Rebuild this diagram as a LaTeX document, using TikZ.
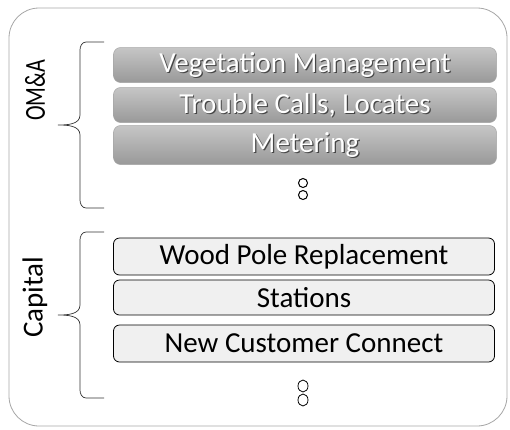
\documentclass[tikz,border=0pt]{standalone}
\usepackage{fontspec}
\usepackage{graphicx}
\setmainfont{Carlito}
\usetikzlibrary{shadings}
\begin{document}
\begin{tikzpicture}[x=1pt,y=-1pt,
  omabox/.style={rounded corners=7pt, top color=gray!45, bottom color=gray!80, draw=gray!70, line width=0.5pt, minimum width=383pt, inner sep=0pt},
  omatext/.style={font=\fontsize{29}{29}\selectfont, text=white},
  omashadow/.style={font=\fontsize{29}{29}\selectfont, text=gray!55!black},
  capbox/.style={rounded corners=6pt, fill=gray!12, draw=black, line width=0.8pt, minimum width=381pt, inner sep=0pt, font=\fontsize{29}{29}\selectfont, text=black},
  grouplabel/.style={rotate=90, font=\fontsize{29}{29}\selectfont},
  bracepath/.style={draw=black!80, line width=0.7pt},
  dot/.style={draw=black, line width=1pt}
]
\useasboundingbox (0,0) rectangle (510,429);
% outer frame
\draw[gray!70, line width=0.8pt, rounded corners=30pt] (9,8) rectangle (507,426);

% OM&A group
\node[grouplabel] (oma) at (35,90) {\scalebox{0.76}[1]{OM\&A}};
\draw[bracepath] (104,42) -- (86,42) to[out=180,in=90] (80,50) -- (80,115) to[out=-90,in=0] (58,125) to[out=0,in=90] (80,135) -- (80,200) to[out=-90,in=180] (86,208) -- (104,208);

\foreach \n/\y/\h/\t in {v/65/35/Vegetation Management, t/105/35/{Trouble Calls, Locates}, m/145/39/Metering}{
  \node[omabox, minimum height=\h pt] (\n) at (305,\y) {};
  \node[omashadow] (\n s) at ([shift={(1.2,1.4)}]\n.center) {\t};
  \node[omatext] (\n t) at (\n.center) {\t};
}
\draw[dot] (303,183) circle[x radius=4.5, y radius=4.5];
\draw[dot] (303,195) circle[x radius=4.5, y radius=4.5];

% Capital group
\node[grouplabel] (cap) at (35,297) {Capital};
\draw[bracepath] (104,232) -- (86,232) to[out=180,in=90] (80,240) -- (80,305) to[out=-90,in=0] (58,315) to[out=0,in=90] (80,325) -- (80,390) to[out=-90,in=180] (86,398) -- (104,398);

\node[capbox, minimum height=37pt] (w) at (304,256.5) {Wood Pole Replacement};
\node[capbox, minimum height=35pt] (s) at (304,297.5) {Stations};
\node[capbox, minimum height=37pt] (n) at (304,343.5) {New Customer Connect};
\draw[line width=0.8pt] (303,386) ellipse[x radius=5, y radius=6];
\draw[line width=0.8pt] (303,400) ellipse[x radius=5, y radius=6];
\end{tikzpicture}
\end{document}
